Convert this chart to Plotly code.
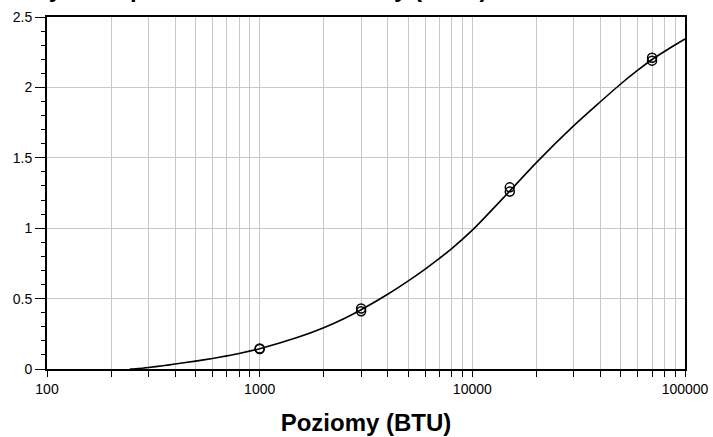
import plotly.graph_objects as go

# Fitted curve
curve_x = [245, 270, 300, 350, 400, 500, 600, 700, 800, 1000, 1500, 2000, 2500,
           3000, 4000, 5000, 6000, 7000, 8000, 10000, 15000, 20000, 30000,
           40000, 50000, 60000, 70000, 85000, 100000]
curve_y = [0.0, 0.004, 0.011, 0.023, 0.035, 0.056, 0.075, 0.093, 0.110, 0.144,
           0.223, 0.293, 0.359, 0.421, 0.531, 0.626, 0.710, 0.786, 0.855, 0.986,
           1.264, 1.466, 1.728, 1.898, 2.026, 2.122, 2.198, 2.280, 2.344]

# Measured standards
pts_x = [1000, 1000, 3000, 3000, 15000, 15000, 70000, 70000]
pts_y = [0.142, 0.146, 0.41, 0.43, 1.26, 1.29, 2.19, 2.21]

x_major = [100, 1000, 10000, 100000]
x_major_labels = ["100", "1000", "10000", "100000"]
y_ticks = [0, 0.5, 1, 1.5, 2, 2.5]
y_tick_labels = ["0", "0.5", "1", "1.5", "2", "2.5"]

x_title = "Poziomy (BTU)"
chart_title = "Krzywa dopasowania - oś Pionowy (A450)"

# all log grid positions (1..9 x decade)
x_tickvals = []
x_ticktext = []
for d in x_major[:-1]:
    for m in range(1, 10):
        v = d * m
        x_tickvals.append(v)
        x_ticktext.append(x_major_labels[x_major.index(d)] if m == 1 else "")
x_tickvals.append(x_major[-1])
x_ticktext.append(x_major_labels[-1])

fig = go.Figure()
fig.add_trace(go.Scatter(x=curve_x, y=curve_y, mode="lines",
                         line=dict(color="black", width=1.6, shape="spline", smoothing=0.8),
                         showlegend=False, hoverinfo="skip"))
fig.add_trace(go.Scatter(x=pts_x, y=pts_y, mode="markers",
                         marker=dict(symbol="circle-open", size=9, color="black",
                                     line=dict(width=1.5, color="black")),
                         showlegend=False))

font_family = "Liberation Sans, Arial, sans-serif"

fig.update_layout(
    width=713, height=437,
    margin=dict(l=47, r=28, t=17, b=68, autoexpand=False),
    paper_bgcolor="white", plot_bgcolor="white",
    font=dict(family=font_family, size=14, color="black"),
    showlegend=False,
)
fig.update_xaxes(
    type="log", range=[2, 5], automargin=False,
    tickvals=x_tickvals, ticktext=x_ticktext,
    ticks="outside", ticklen=6, tickwidth=1, tickcolor="black",
    showgrid=True, gridcolor="#c8c8c8", gridwidth=1,
    showline=True, linecolor="black", linewidth=2, mirror=True,
    zeroline=False,
    tickfont=dict(size=14),
    title=dict(text=x_title, font=dict(size=24, family=font_family, weight="bold"), standoff=18),
)
fig.update_yaxes(
    range=[0, 2.5], automargin=False,
    tickvals=y_ticks, ticktext=y_tick_labels,
    ticks="outside", ticklen=10, tickwidth=1, tickcolor="black",
    minor=dict(dtick=0.1, ticks="outside", ticklen=4, tickcolor="black", showgrid=False),
    showgrid=True, gridcolor="#c8c8c8", gridwidth=1,
    showline=True, linecolor="black", linewidth=2, mirror=True,
    zeroline=False,
    tickfont=dict(size=14),
)
fig.add_annotation(
    text=chart_title, xref="paper", yref="paper", x=-0.061, y=1.036,
    xanchor="left", yanchor="bottom", showarrow=False,
    font=dict(size=24, family=font_family, weight="bold", color="black"),
)

fig.write_html("out.html",
               config={"displayModeBar": False},
               post_script="document.body.style.margin='0';document.body.style.overflow='hidden';")
